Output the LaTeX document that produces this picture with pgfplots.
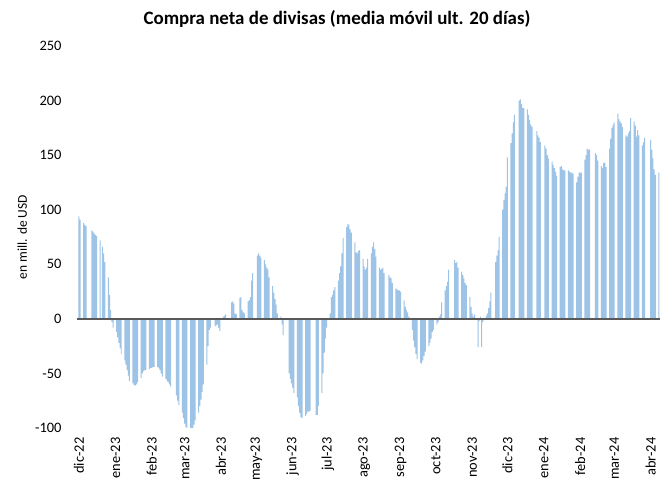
\documentclass[border=0pt]{standalone}
\usepackage{fontspec}
\setmainfont{Carlito}
\usepackage{pgfplots}
\pgfplotsset{compat=1.18}
\definecolor{barblue}{RGB}{157,195,230}
\definecolor{zeroline}{RGB}{89,89,89}
\begin{document}
\begin{tikzpicture}
\path[use as bounding box] (0,0) rectangle (660bp,480bp);
\begin{axis}[
  at={(77bp,52bp)}, anchor=south west,
  scale only axis, width=583bp, height=382bp,
  xmin=-1.7, xmax=495, ymin=-100, ymax=250,
  axis line style={draw=none},
  major tick length=0pt,
  ytick={-100,-50,0,50,100,150,200,250},
  yticklabels={-100,-50,0,50,100,150,200,250},
  xtick={0,31,62,90,121,151,182,212,243,274,304,335,365,396,427,456,487},
  xticklabels={dic-22,ene-23,feb-23,mar-23,abr-23,may-23,jun-23,jul-23,ago-23,sep-23,oct-23,nov-23,dic-23,ene-24,feb-24,mar-24,abr-24},
  xticklabel style={rotate=90, anchor=east, font=\fontsize{14.5}{16}\selectfont},
  xticklabel shift=6bp,
  yticklabel style={font=\fontsize{14.5}{16}\selectfont, xshift=-12bp},
  ylabel={en mill. de USD},
  ylabel style={at={(axis description cs:-0.094,0.5)}, anchor=center, font=\fontsize{13.5}{16}\selectfont},
  title={Compra neta de divisas (media móvil ult. 20 días)},
  title style={at={(axis description cs:0.446,1)}, anchor=center, yshift=21bp, font=\fontsize{19}{22}\selectfont\bfseries},
]
\addplot[ybar, bar width=0.85, fill=barblue, draw=none] table[row sep=\\] {
x y\\
0 94\\ 1 91\\ 4 88\\ 5 86\\ 6 85\\ 11 81\\ 12 80\\ 13 78\\ 14 77\\ 15 76\\
18 72\\ 20 66\\ 21 60\\ 22 52\\ 25 38\\ 26 22\\ 27 8\\ 28 -3\\ 29 -8\\
32 -12\\ 33 -17\\ 34 -22\\ 35 -27\\ 36 -32\\ 39 -38\\ 40 -42\\ 41 -47\\ 42 -52\\ 43 -57\\
46 -59\\ 47 -61\\ 48 -61\\ 49 -60\\ 50 -58\\ 53 -54\\ 54 -50\\ 55 -48\\ 56 -47\\ 57 -47\\
60 -46\\ 61 -45\\ 62 -45\\ 63 -44\\ 64 -44\\ 67 -44\\ 68 -45\\ 69 -47\\ 70 -50\\ 71 -53\\
74 -55\\ 75 -57\\ 76 -58\\ 77 -60\\ 78 -62\\ 83 -70\\ 84 -75\\ 85 -79\\
88 -86\\ 89 -91\\ 90 -96\\ 91 -99\\ 92 -100\\ 95 -100\\ 96 -100\\ 97 -100\\ 98 -97\\ 99 -93\\
102 -86\\ 103 -80\\ 104 -74\\ 105 -67\\ 106 -60\\ 109 -42\\ 110 -25\\ 111 -10\\ 112 -8\\
116 -7\\ 117 -6\\ 118 -5\\ 119 -8\\ 120 -11\\ 123 2\\ 124 3\\ 125 4\\
130 15\\ 131 16\\ 132 14\\ 133 5\\ 134 4\\ 137 19\\ 138 20\\ 139 8\\ 140 6\\ 141 5\\
144 16\\ 145 17\\ 146 20\\ 147 35\\ 148 42\\ 152 58\\ 153 60\\ 154 58\\ 155 56\\
158 54\\ 159 50\\ 160 47\\ 161 45\\ 162 38\\ 165 30\\ 166 24\\ 167 18\\ 168 13\\ 169 5\\
172 2\\ 173 -5\\ 174 -15\\ 179 -50\\ 180 -55\\ 181 -59\\ 182 -63\\ 183 -68\\
186 -72\\ 187 -80\\ 188 -86\\ 189 -90\\ 190 -91\\ 193 -89\\ 194 -87\\ 195 -85\\ 196 -85\\ 197 -84\\
202 -88\\ 203 -88\\ 204 -80\\ 207 -68\\ 208 -50\\ 209 -31\\ 210 -18\\ 211 -8\\
214 5\\ 215 20\\ 216 22\\ 217 26\\ 218 29\\ 221 35\\ 222 42\\ 223 48\\ 224 60\\ 225 74\\
228 84\\ 229 87\\ 230 86\\ 231 82\\ 232 79\\ 235 70\\ 236 61\\ 237 60\\ 238 62\\ 239 63\\
242 55\\ 243 48\\ 244 45\\ 245 47\\ 246 55\\ 249 60\\ 250 66\\ 251 70\\ 252 64\\ 253 57\\
256 47\\ 257 45\\ 258 46\\ 259 47\\ 260 42\\ 264 40\\ 265 38\\ 266 37\\ 267 33\\
270 28\\ 271 27\\ 272 26\\ 273 26\\ 274 25\\ 277 17\\ 278 11\\ 279 8\\ 280 6\\ 281 2\\
284 -10\\ 285 -20\\ 286 -26\\ 287 -32\\ 288 -37\\ 291 -40\\ 292 -41\\ 293 -38\\ 294 -34\\ 295 -30\\
298 -25\\ 299 -22\\ 300 -18\\ 301 -12\\ 302 -10\\ 305 -5\\ 306 -3\\ 307 2\\ 308 4\\ 309 15\\
312 26\\ 313 30\\ 314 34\\ 315 45\\ 320 54\\ 321 51\\ 322 52\\ 323 47\\
326 43\\ 327 40\\ 328 37\\ 329 33\\ 330 31\\ 333 20\\ 334 11\\ 335 5\\ 336 2\\ 337 4\\
340 -26\\ 341 -2\\ 342 2\\ 343 -26\\ 344 -3\\ 347 3\\ 348 5\\ 349 10\\ 350 16\\ 351 24\\
355 52\\ 356 58\\ 357 63\\ 358 75\\ 361 100\\ 362 109\\ 363 115\\ 364 121\\ 365 148\\
368 161\\ 369 170\\ 370 180\\ 371 187\\ 375 200\\ 376 201\\ 377 197\\ 378 193\\ 379 193\\
382 192\\ 383 187\\ 384 182\\ 385 178\\ 386 176\\ 390 172\\ 391 168\\ 392 166\\ 393 162\\
397 159\\ 398 156\\ 399 150\\ 400 147\\ 403 144\\ 404 141\\ 405 138\\ 406 135\\ 407 131\\
410 139\\ 411 140\\ 412 137\\ 413 136\\ 414 136\\ 417 136\\ 418 135\\ 419 134\\ 420 134\\ 421 133\\
424 125\\ 425 130\\ 426 134\\ 427 134\\ 428 134\\ 431 146\\ 432 150\\ 433 156\\ 434 155\\ 435 155\\
440 152\\ 441 150\\ 442 145\\ 445 140\\ 446 138\\ 447 143\\ 448 143\\ 449 139\\
452 156\\ 453 165\\ 454 175\\ 455 178\\ 456 180\\ 459 188\\ 460 183\\ 461 181\\ 462 179\\ 463 176\\
466 168\\ 467 167\\ 468 170\\ 469 172\\ 470 184\\ 473 181\\ 474 177\\ 475 167\\ 476 173\\ 477 168\\
480 159\\ 481 162\\ 482 166\\ 487 164\\ 488 155\\ 489 147\\ 490 137\\ 491 132\\ 494 134\\
};
\addplot[zeroline, line width=1.3bp] coordinates {(-1.7,0) (495,0)};
\end{axis}
\end{tikzpicture}
\end{document}
